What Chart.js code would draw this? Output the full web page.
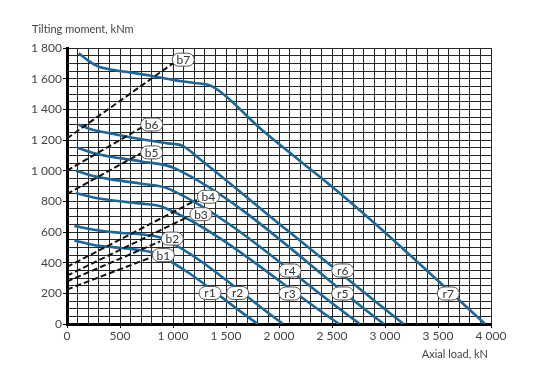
<!DOCTYPE html>
<html>
<head>
<meta charset="utf-8">
<script src="https://cdn.jsdelivr.net/npm/chart.js@4/dist/chart.umd.min.js"></script>
<style>
  html, body { margin: 0; padding: 0; background: #fff; }
  #wrap { width: 560px; height: 379px; }
</style>
</head>
<body>
<div id="wrap"><canvas id="c" width="560" height="379"></canvas></div>
<script>
// ---- Data ----
const yTitle = "Tilting moment, kNm";
const xTitle = "Axial load, kN";

// Raceway curves r1..r7 (axial load kN, tilting moment kNm)
const r1Load   = [70, 250, 450, 650, 830, 1800];
const r1Moment = [545, 515, 500, 485, 460, 0];
const r2Load   = [70, 250, 500, 750, 900, 2040];
const r2Moment = [640, 615, 595, 580, 558, 0];
const r3Load   = [85, 250, 500, 700, 915, 2569];
const r3Moment = [855, 825, 800, 785, 760, 0];
const r4Load   = [85, 250, 400, 700, 972, 2764];
const r4Moment = [1000, 965, 945, 915, 878, 0];
const r5Load   = [97, 250, 400, 700, 1019, 2990];
const r5Moment = [1150, 1115, 1092, 1060, 1015, 0];
const r6Load   = [110, 250, 400, 700, 950, 1090, 1255, 2072, 3175];
const r6Moment = [1300, 1265, 1245, 1205, 1178, 1162, 1075, 614, 0];
const r7Load   = [110, 200, 300, 400, 600, 800, 1000, 1200, 1370, 1840, 2580, 2950, 3945];
const r7Moment = [1765, 1718, 1678, 1662, 1640, 1618, 1592, 1572, 1550, 1265, 850, 628, 0];

// Bolt curves b1..b7 (dashed straight lines)
const b1Load = [0, 799];   const b1Moment = [225, 436];
const b2Load = [0, 877];   const b2Moment = [277, 538];
const b3Load = [0, 1144];  const b3Moment = [315, 700];
const b4Load = [0, 1223];  const b4Moment = [372, 809];
const b5Load = [0, 700];   const b5Moment = [848, 1115];
const b6Load = [0, 700];   const b6Moment = [1000, 1280];
const b7Load = [0, 1000];  const b7Moment = [1210, 1700];

// Curve tags (text and where they sit, in data units)
const tagText   = ["b1","b2","b3","b4","b5","b6","b7","r1","r2","r3","r4","r5","r6","r7"];
const tagLoad   = [909, 993, 1264, 1333, 799, 799, 1097, 1349, 1610, 2104, 2104, 2601, 2601, 3597];
const tagMoment = [449, 557, 716, 830, 1119, 1301, 1724, 202, 202, 199, 349, 199, 349, 199];

// Axis ranges / ticks
const xMin = 0, xMax = 4000, xGridStep = 100, xLabelStep = 500;
const yMin = 0, yMax = 1800, yGridStep = 50, yLabelStep = 200;

// ---- Build datasets ----
const pts = (xs, ys) => xs.map((x, i) => ({ x: x, y: ys[i] }));
const blue = '#1d6797';
const rSets = [
  [r1Load, r1Moment], [r2Load, r2Moment], [r3Load, r3Moment], [r4Load, r4Moment],
  [r5Load, r5Moment], [r6Load, r6Moment], [r7Load, r7Moment]
].map((p, i) => ({
  label: 'r' + (i + 1),
  data: pts(p[0], p[1]),
  borderColor: blue,
  borderWidth: 2.6,
  pointRadius: 0,
  cubicInterpolationMode: 'monotone',
  fill: false
}));
const bSets = [
  [b1Load, b1Moment], [b2Load, b2Moment], [b3Load, b3Moment], [b4Load, b4Moment],
  [b5Load, b5Moment], [b6Load, b6Moment], [b7Load, b7Moment]
].map((p, i) => ({
  label: 'b' + (i + 1),
  data: pts(p[0], p[1]),
  borderColor: '#111',
  borderWidth: 2,
  borderDash: [6, 3],
  pointRadius: 0,
  tension: 0,
  fill: false
}));

const fmt = v => {
  if (v >= 1000) return Math.floor(v / 1000) + ' ' + String(v % 1000).padStart(3, '0');
  return String(v);
};

const decor = {
  id: 'decor',
  afterDatasetsDraw(chart) {
    const ctx = chart.ctx, xs = chart.scales.x, ys = chart.scales.y;
    ctx.save();
    ctx.font = '12px Lato, "DejaVu Sans", sans-serif';
    ctx.textAlign = 'center';
    ctx.textBaseline = 'middle';
    for (let i = 0; i < tagText.length; i++) {
      const cx = xs.getPixelForValue(tagLoad[i]);
      const cy = ys.getPixelForValue(tagMoment[i]);
      const w = 22, h = 13, r = 6.5;
      ctx.beginPath();
      ctx.roundRect(cx - w / 2, cy - h / 2, w, h, r);
      ctx.fillStyle = '#fff';
      ctx.fill();
      ctx.lineWidth = 1;
      ctx.strokeStyle = '#555';
      ctx.stroke();
      ctx.fillStyle = '#333';
      ctx.fillText(tagText[i], cx, cy + 0.5);
    }
    ctx.restore();
  },
  afterDraw(chart) {
    const ctx = chart.ctx;
    ctx.save();
    ctx.font = '11px Lato, "DejaVu Sans", sans-serif';
    ctx.fillStyle = '#444';
    ctx.textBaseline = 'alphabetic';
    ctx.textAlign = 'left';
    ctx.fillText(yTitle, 32, 33);
    ctx.textAlign = 'right';
    ctx.fillText(xTitle, 488, 358);
    ctx.restore();
  }
};

new Chart(document.getElementById('c'), {
  type: 'line',
  data: { datasets: [...bSets, ...rSets] },
  options: {
    responsive: false,
    animation: false,
    events: [],
    layout: { padding: { left: 0, right: 69, top: 48, bottom: 0 } },
    plugins: { legend: { display: false }, tooltip: { enabled: false } },
    scales: {
      x: {
        type: 'linear',
        min: xMin, max: xMax,
        afterFit: s => { s.height = 55; },
        ticks: {
          stepSize: xGridStep,
          autoSkip: false,
          maxRotation: 0,
          padding: 1,
          color: '#444',
          font: { family: 'Lato, "DejaVu Sans", sans-serif', size: 12 },
          callback: v => (v % xLabelStep === 0 ? fmt(v) : '')
        },
        grid: {
          color: '#262626',
          lineWidth: 1,
          tickLength: 4,
          tickColor: c => (c.tick && c.tick.value % xLabelStep === 0 ? '#000' : 'rgba(0,0,0,0)')
        },
        border: { display: true, color: '#000', width: 3 }
      },
      y: {
        type: 'linear',
        min: yMin, max: yMax,
        afterFit: s => { s.width = 67; },
        ticks: {
          stepSize: yGridStep,
          autoSkip: false,
          padding: 1,
          color: '#444',
          font: { family: 'Lato, "DejaVu Sans", sans-serif', size: 12 },
          callback: v => (v % yLabelStep === 0 ? fmt(v) : '')
        },
        grid: {
          color: '#262626',
          lineWidth: 1,
          tickLength: 4,
          tickColor: c => (c.tick && c.tick.value % yLabelStep === 0 ? '#000' : 'rgba(0,0,0,0)')
        },
        border: { display: true, color: '#000', width: 3 }
      }
    }
  },
  plugins: [decor]
});
</script>
</body>
</html>
